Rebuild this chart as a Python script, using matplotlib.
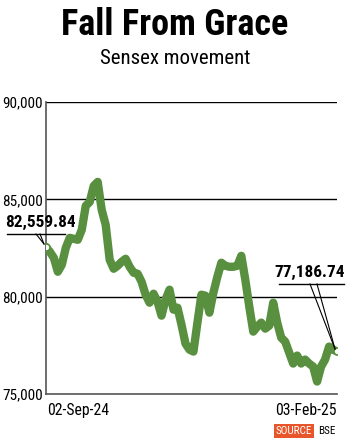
import numpy as np
import matplotlib.pyplot as plt
from matplotlib import font_manager

# pick a narrow face if one is installed
fonts = font_manager.fontManager.ttflist
narrow, stretch = 'DejaVu Sans', 'condensed'
for f in fonts:
    if f.name in ('Roboto Condensed', 'Liberation Sans Narrow', 'Open Sans Condensed'):
        narrow, stretch = f.name, 'normal'
        break
plt.rcParams['font.family'] = [narrow, 'DejaVu Sans']
plt.rcParams['font.stretch'] = stretch

# Sensex closing values, 02-Sep-24 .. 03-Feb-25
sensex = [82559.84, 82308, 82000, 81282, 81641, 82513, 83026, 82974, 82923, 83436,
          84667, 84872, 85692, 85900, 84462, 83692, 81897, 81436, 81590, 81795,
          81949, 81538, 81231, 81179, 80769, 80103, 79692, 80154, 79744, 79026,
          79846, 80359, 79333, 79436, 78564, 77590, 77282, 77179, 78667, 80103,
          80051, 79179, 80205, 81026, 81744, 81590, 81538, 81538, 81590, 82100,
          80872, 79487, 78205, 78462, 78667, 78359, 78513, 79692, 78667, 77897,
          77692, 77128, 76564, 76974, 76564, 76769, 76564, 76410, 75641, 76410,
          76769, 77436, 77282, 77186.74]
yticks = [75000, 80000, 85000, 90000]
xlabels = ['02-Sep-24', '03-Feb-25']
green = '#58903f'

fig = plt.figure(figsize=(3.5, 4.42), dpi=100)
ax = fig.add_axes([0.131, 0.1086, 0.832, 0.6604])
x = np.arange(len(sensex))
ax.plot(x, sensex, color=green, lw=6, solid_capstyle='round', solid_joinstyle='round', zorder=3)
ax.plot([x[0], x[-1]], [sensex[0], sensex[-1]], 'o', ms=5, mfc='white', mec=green, mew=1.2, zorder=4)

ax.set_xlim(x[0], x[-1])
ax.set_ylim(75000, 90000)
ax.set_yticks(yticks)
ax.set_yticklabels([f'{v:,}' for v in yticks], fontsize=11)
ax.set_xticks([])
ax.tick_params(length=0, pad=2)
for v in yticks[1:]:
    ax.axhline(v, color='black', lw=1, zorder=1)
for s in ['top', 'right']:
    ax.spines[s].set_visible(False)
for s in ['left', 'bottom']:
    ax.spines[s].set_color('#555555')
    ax.spines[s].set_linewidth(1.2)

ax.text(0.003, -0.03, xlabels[0], transform=ax.transAxes, ha='left', va='top', fontsize=11.3)
ax.text(1.0, -0.03, xlabels[1], transform=ax.transAxes, ha='right', va='top', fontsize=11.3)

# labels for first and last values
fig.text(5 / 350, 1 - 222 / 442, f'{sensex[0]:,.2f}', ha='left', va='center', fontsize=12.4, fontweight='bold')
fig.add_artist(plt.Line2D([7 / 350, 65 / 350], [1 - 234 / 442] * 2, color='black', lw=1))
fig.add_artist(plt.Line2D([36 / 350, 44 / 350], [1 - 234 / 442, 1 - 244 / 442], color='black', lw=0.8))
fig.add_artist(plt.Line2D([40 / 350, 44 / 350], [1 - 234 / 442, 1 - 244 / 442], color='black', lw=0.8))

fig.text(345 / 350, 1 - 272 / 442, f'{sensex[-1]:,.2f}', ha='right', va='center', fontsize=12.4, fontweight='bold')
fig.add_artist(plt.Line2D([279 / 350, 344 / 350], [1 - 284 / 442] * 2, color='black', lw=1))
fig.add_artist(plt.Line2D([310 / 350, 335 / 350], [1 - 284 / 442, 1 - 349 / 442], color='black', lw=0.8))
fig.add_artist(plt.Line2D([317 / 350, 335 / 350], [1 - 284 / 442, 1 - 349 / 442], color='black', lw=0.8))

fig.text(0.5, 1 - 25 / 442, 'Fall From Grace', ha='center', va='center', fontsize=26, fontweight='bold')
fig.text(0.5, 1 - 58 / 442, 'Sensex movement', ha='center', va='center', fontsize=15)

fig.text(294 / 350, 1 - 431 / 442, 'SOURCE', ha='center', va='center', fontsize=8, color='white',
         bbox=dict(boxstyle='square,pad=0.2', fc='#e8552a', ec='none'))
fig.text(318 / 350, 1 - 431 / 442, 'BSE', ha='left', va='center', fontsize=8)

fig.savefig('out.png', dpi=100)
